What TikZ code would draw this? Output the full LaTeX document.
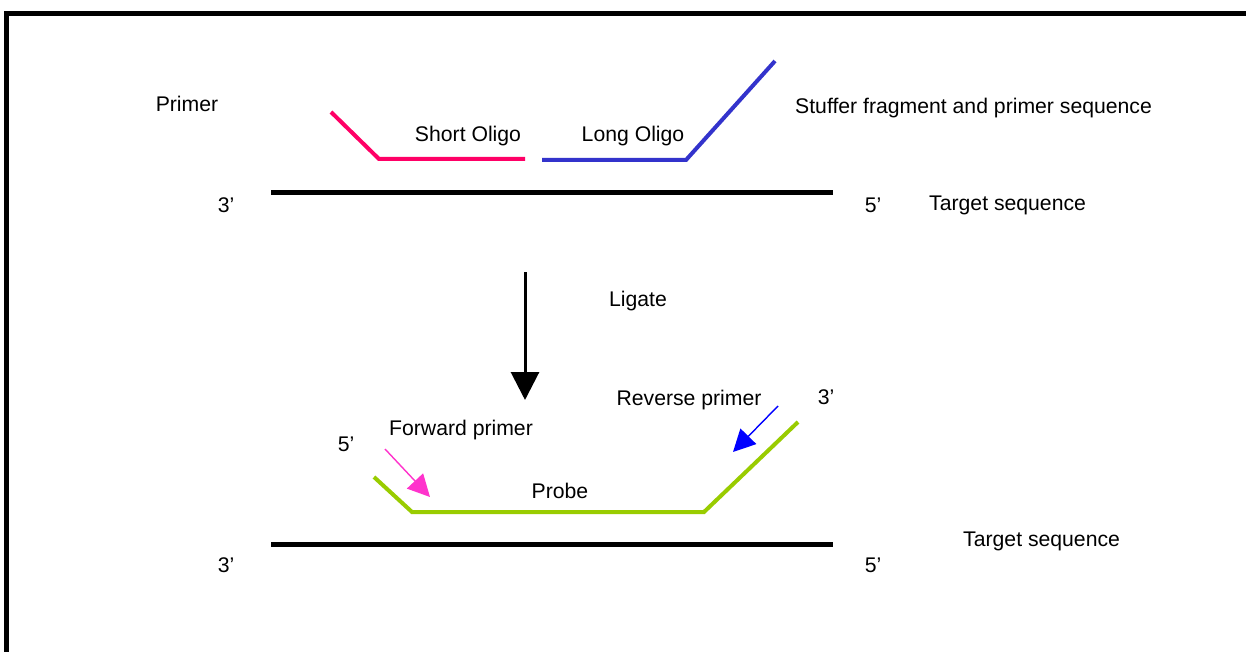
\documentclass[tikz,border=0pt]{standalone}
\usepackage{fontspec}
\setmainfont{Liberation Sans}
\usetikzlibrary{arrows.meta}
\begin{document}
\begin{tikzpicture}[x=1pt,y=-1pt,
  lbl/.style={inner sep=0pt,font=\fontsize{21.2}{25}\selectfont},
  lbll/.style={lbl,anchor=west},
  target/.style={line width=4.5pt,black},
  strand/.style={line width=4pt,line join=miter},
  pointer/.style={line width=1.4pt,-{Triangle[length=22pt,width=22pt]}}]
\definecolor{oligopink}{RGB}{255,0,102}
\definecolor{oligoblue}{RGB}{51,51,204}
\definecolor{probegreen}{RGB}{153,204,0}
\definecolor{fwdpink}{RGB}{255,51,204}
\definecolor{revblue}{RGB}{0,0,255}
\useasboundingbox (0,0) rectangle (1246,652);
\fill[white] (0,0) rectangle (1246,652);
% frame
\draw[line width=5pt,line cap=rect] (6.5,652) -- (6.5,13.5) -- (1250,13.5);

% upper panel: oligos on the target
\coordinate (t1a) at (271,192.5);
\coordinate (t1b) at (833,192.5);
\draw[target] (t1a) -- (t1b);
\coordinate (pa) at (331,112);
\coordinate (pb) at (379,159);
\coordinate (pc) at (525,159);
\draw[strand,oligopink] (pa) -- (pb) -- (pc);
\coordinate (ba) at (542,160);
\coordinate (bb) at (686,160);
\coordinate (bc) at (775,61);
\draw[strand,oligoblue] (ba) -- (bb) -- (bc);
\node[lbl] (primer) at (187,104) {Primer};
\node[lbl] (short) at (468,136) {Short Oligo};
\node[lbl] (long) at (633,136) {Long Oligo};
\node[lbll] (stuffer) at (795,108) {Stuffer fragment and primer sequence};
\node[lbl] (t1three) at (226,205) {3’};
\node[lbl] (t1five) at (873,205) {5’};
\node[lbll] (t1name) at (929,205) {Target sequence};

% ligation step
\coordinate (la) at (525,272);
\coordinate (lb) at (525,400);
\draw[line width=3pt,-{Triangle[length=28pt,width=28pt]}] (la) -- (lb);
\node[lbl] (ligate) at (638,301) {Ligate};

% lower panel: ligated probe on the target
\coordinate (t2a) at (271,544.5);
\coordinate (t2b) at (833,544.5);
\draw[target] (t2a) -- (t2b);
\coordinate (ga) at (374,477);
\coordinate (gb) at (412,512);
\coordinate (gc) at (704,512);
\coordinate (gd) at (798,422);
\draw[strand,probegreen] (ga) -- (gb) -- (gc) -- (gd);
\coordinate (fa) at (385,449);
\coordinate (fb) at (430,497);
\draw[pointer,fwdpink] (fa) -- (fb);
\coordinate (ra) at (778,406);
\coordinate (rb) at (733,452);
\draw[pointer,revblue] (ra) -- (rb);
\node[lbl] (rev) at (689,400) {Reverse primer};
\node[lbl] (gthree) at (826,397) {3’};
\node[lbl] (fwd) at (461,430) {Forward primer};
\node[lbl] (gfive) at (346,444) {5’};
\node[lbl] (probe) at (560,491) {Probe};
\node[lbll] (t2name) at (963,541) {Target sequence};
\node[lbl] (t2three) at (226,565) {3’};
\node[lbl] (t2five) at (873,565) {5’};
\end{tikzpicture}
\end{document}
